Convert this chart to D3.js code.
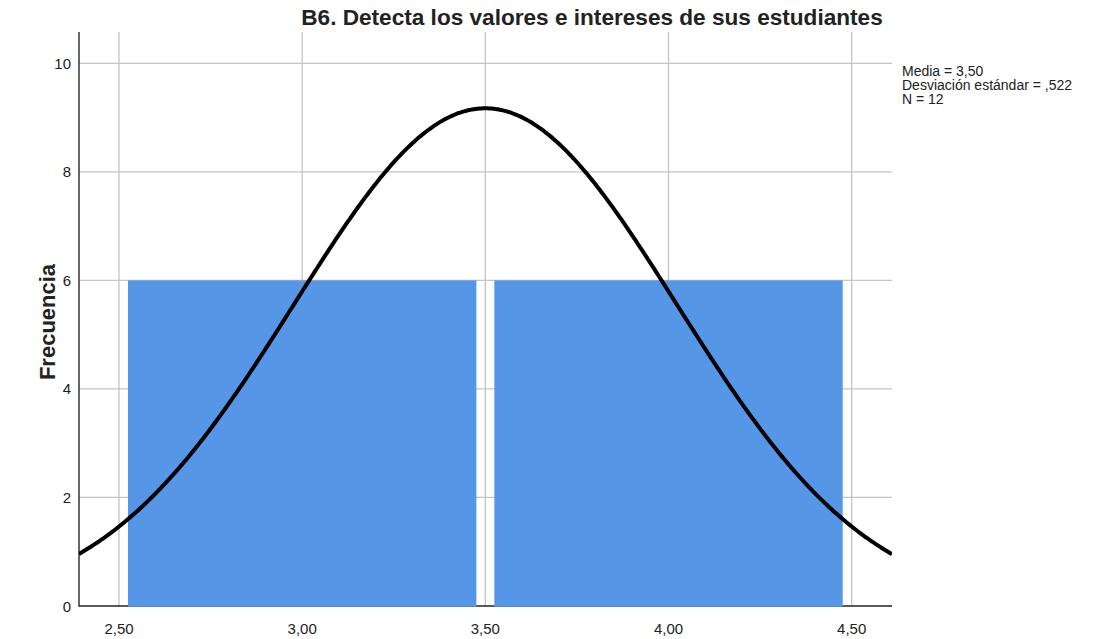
<!DOCTYPE html>
<html><head><meta charset="utf-8">
<script src="https://cdn.jsdelivr.net/npm/d3@7"></script>
<style>body{margin:0;background:#fff}svg{display:block}text{font-family:"Liberation Sans",Arial,sans-serif}</style>
</head><body><svg id="c" width="1098" height="639"></svg>
<script>
const title = "B6. Detecta los valores e intereses de sus estudiantes";
const binStarts = [2.5, 3.5];
const binEnds = [3.5, 4.5];
const counts = [6, 6];
const xTicks = [2.5, 3.0, 3.5, 4.0, 4.5];
const yTicks = [0, 2, 4, 6, 8, 10];
const stats = {mean: 3.50, sd: 0.522, n: 12};
const legendLines = ["Media = 3,50", "Desviación estándar = ,522", "N = 12"];

const svg = d3.select("#c");
const L = 79, R = 892, T = 32, B = 606;
const x = d3.scaleLinear().domain([2.5, 4.5]).range([119, 851.7]);
const y = d3.scaleLinear().domain([0, 10]).range([B, 63.3]);
const fmt = d => d3.format(".2f")(d).replace(".", ",");

// gridlines
svg.append("g").selectAll("line").data(xTicks).join("line")
  .attr("x1", d => x(d)).attr("x2", d => x(d)).attr("y1", T).attr("y2", B)
  .attr("stroke", "#c4c4c4").attr("stroke-width", 1.3);
svg.append("g").selectAll("line").data(yTicks.filter(d => d > 0)).join("line")
  .attr("x1", L).attr("x2", R).attr("y1", d => y(d)).attr("y2", d => y(d))
  .attr("stroke", "#c4c4c4").attr("stroke-width", 1.3);

// x axis line
svg.append("line").attr("x1", L).attr("x2", R).attr("y1", B).attr("y2", B)
  .attr("stroke", "#222").attr("stroke-width", 1.5);

// bars
const inset = 9;
svg.append("g").selectAll("rect").data(counts).join("rect")
  .attr("x", (d, i) => x(binStarts[i]) + inset)
  .attr("width", (d, i) => x(binEnds[i]) - x(binStarts[i]) - 2 * inset)
  .attr("y", d => y(d)).attr("height", d => B + 0.8 - y(d))
  .attr("fill", "#5596e6");

// y axis line
svg.append("line").attr("x1", L).attr("x2", L).attr("y1", T).attr("y2", B + 0.7)
  .attr("stroke", "#333").attr("stroke-width", 1.5);

// normal curve
svg.append("clipPath").attr("id", "clip").append("rect")
  .attr("x", L).attr("y", T).attr("width", R - L).attr("height", B - T);
const bw = binEnds[0] - binStarts[0];
const xs = d3.range(0, 401).map(i => x.invert(L) + (x.invert(R) - x.invert(L)) * i / 400);
const pts = xs.map(v => [v, stats.n * bw / (stats.sd * Math.sqrt(2 * Math.PI)) * Math.exp(-0.5 * ((v - stats.mean) / stats.sd) ** 2)]);
svg.append("path").datum(pts).attr("clip-path", "url(#clip)")
  .attr("d", d3.line().x(d => x(d[0])).y(d => y(d[1])).curve(d3.curveBasis))
  .attr("fill", "none").attr("stroke", "#000").attr("stroke-width", 4);

// tick labels
svg.append("g").selectAll("text").data(xTicks).join("text")
  .attr("x", d => x(d)).attr("y", 634).attr("text-anchor", "middle")
  .attr("font-size", 15).attr("fill", "#222").text(fmt);
svg.append("g").selectAll("text").data(yTicks).join("text")
  .attr("x", 71).attr("y", d => y(d) + 5.5).attr("text-anchor", "end")
  .attr("font-size", 15).attr("fill", "#222").text(d => d);

// axis title
svg.append("text").attr("transform", "translate(55,322) rotate(-90)")
  .attr("text-anchor", "middle").attr("font-size", 22).attr("font-weight", "bold")
  .attr("fill", "#222").text("Frecuencia");

// title
svg.append("text").attr("x", 592).attr("y", 25).attr("text-anchor", "middle")
  .attr("font-size", 22.6).attr("font-weight", "bold").attr("fill", "#222").text(title);

// legend stats
svg.append("g").selectAll("text").data(legendLines).join("text")
  .attr("x", 902).attr("y", (d, i) => 76 + i * 14)
  .attr("font-size", 14).attr("fill", "#222").text(d => d);
</script></body></html>
